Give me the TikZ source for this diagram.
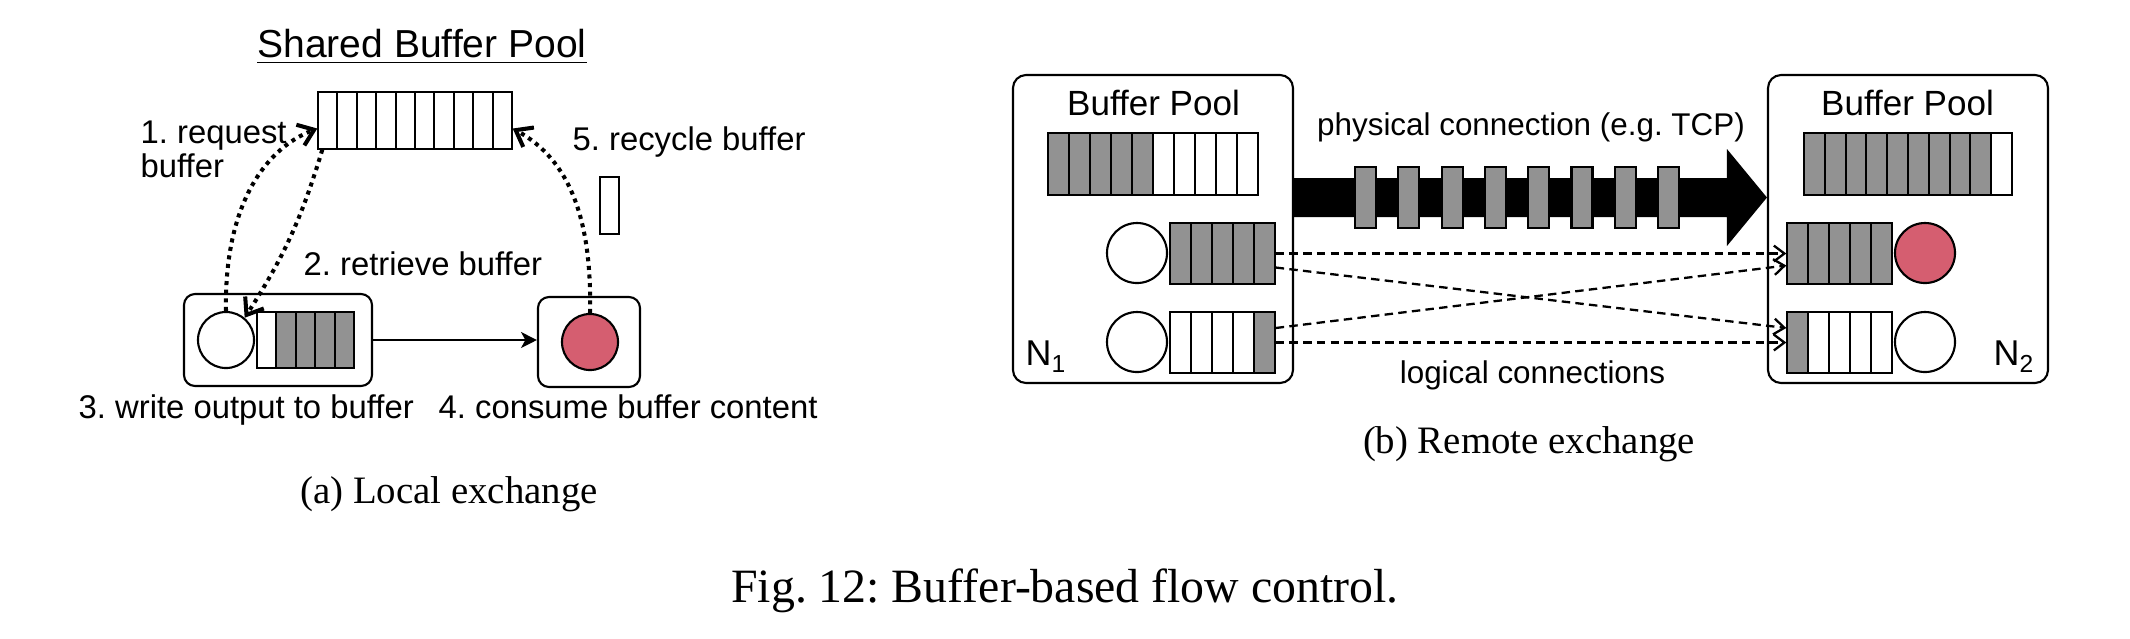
\documentclass[tikz,border=0pt]{standalone}
\usepackage{fontspec}
\setmainfont{Liberation Sans}
\newfontfamily\serifcap{Liberation Serif}
\usetikzlibrary{arrows.meta,fit,calc}
\definecolor{cg}{RGB}{146,146,146}
\definecolor{cred}{RGB}{213,94,112}
\newcommand\cellbuf[7]{%
  \foreach \cf [count=\ci from 0] in {#7} {
    \filldraw[fill=\cf, draw=black, line width=0.6pt] ({#2+\ci*#4},#3) rectangle ({#2+(\ci+1)*#4},{#3+#5});
  }
  \node[inner sep=0pt, fit={(#2,#3) ({#2+#6*#4},{#3+#5})}] (#1) {};
}
\frenchspacing
\begin{document}
\begin{tikzpicture}[x=0.01cm, y=-0.01cm,
  lbl/.style={inner sep=0pt, anchor=base west, font=\fontsize{9.33pt}{11pt}\selectfont},
  lblc/.style={inner sep=0pt, anchor=base, font=\fontsize{8.93pt}{11pt}\selectfont},
  bp/.style={inner sep=0pt, anchor=base, font=\fontsize{9.96pt}{12pt}\selectfont},
  captxt/.style={inner sep=0pt, anchor=base, font=\serifcap\fontsize{11.04pt}{13pt}\selectfont},
  box/.style={draw, line width=0.6pt, rounded corners=0.11cm, inner sep=0pt},
  ring/.style={circle, draw, line width=0.6pt, inner sep=0pt, minimum size=0.56cm},
  bigring/.style={circle, draw, line width=0.6pt, inner sep=0pt, minimum size=0.6cm},
  bar/.style={rectangle, draw, fill=cg, line width=0.6pt, inner sep=0pt, minimum width=0.21cm, minimum height=0.61cm},
  flow/.style={line width=1.15pt, dash pattern=on 1.15pt off 1.3pt, -{Straight Barb[length=4.2pt,width=6.3pt]}},
  logic/.style={line width=0.65pt, dash pattern=on 2.4pt off 1.5pt, -{Straight Barb[length=3pt,width=4.5pt]}}
]
\useasboundingbox (0,0) rectangle (2130,638);

% ---------- (a) Local exchange ----------
\node[inner sep=0pt, anchor=base, font=\fontsize{11.1pt}{13pt}\selectfont] (title) at (422,57) {\underline{Shared Buffer Pool}};
\cellbuf{pool}{318}{92}{19.4}{57}{10}{white,white,white,white,white,white,white,white,white,white}

\node[lbl] (req1) at (140,143) {1. request};
\node[lbl] (req2) at (140,177) {buffer};
\node[lbl] (rec) at (572,150) {5. recycle buffer};
\node[lbl] (ret) at (303,275) {2. retrieve buffer};
\node[draw, line width=0.6pt, inner sep=0pt, minimum width=0.19cm, minimum height=0.57cm] (freebuf) at (609.5,205.5) {};

\node[box, fit={(184,294) (372,386)}] (lbox) {};
\node[ring] (prod) at (226,340) {};
\cellbuf{outbuf}{257}{312}{19.4}{56}{5}{white,cg,cg,cg,cg}

\node[box, fit={(538,297) (640,387)}] (rbox) {};
\node[ring, fill=cred] (cons) at (590,342) {};

\draw[line width=0.65pt, -{Stealth[length=4.5pt,width=4.5pt,inset=1.2pt]}] (lbox.east) -- (lbox.east -| rbox.west);

\draw[flow] (prod.north) .. controls (224,210) and (262,150) .. ([yshift=-0.08cm]pool.west);
\draw[flow] ([xshift=0.05cm]pool.south west) to[bend left=8] (prod.50);
\draw[flow] (cons.north) .. controls (592,220) and (570,160) .. ([yshift=-0.08cm]pool.east);

\node[lbl] (s3) at (78,418) {3. write output to buffer};
\node[lbl] (s4) at (438,418) {4. consume buffer content};
\node[captxt] (capa) at (449,503) {(a) Local exchange};

% ---------- (b) Remote exchange ----------
\node[box, rounded corners=0.13cm, fit={(1013,75) (1293,383)}] (n1) {};
\node[box, rounded corners=0.13cm, fit={(1768,75) (2048,383)}] (n2) {};

\node[bp] (bp1) at (1153.5,115) {Buffer Pool};
\node[bp] (bp2) at (1907.5,115) {Buffer Pool};

\cellbuf{poola}{1048}{133}{21}{62}{10}{cg,cg,cg,cg,cg,white,white,white,white,white}
\cellbuf{poolb}{1804}{133}{20.8}{62}{10}{cg,cg,cg,cg,cg,cg,cg,cg,cg,white}

\node[bigring] (pa) at (1137,253) {};
\node[bigring] (pb) at (1137,342) {};
\cellbuf{ba}{1170}{223}{21}{61}{5}{cg,cg,cg,cg,cg}
\cellbuf{bb}{1170}{312}{21}{61}{5}{white,white,white,white,cg}

\cellbuf{bc}{1787}{223}{21}{61}{5}{cg,cg,cg,cg,cg}
\cellbuf{bd}{1787}{312}{21}{61}{5}{cg,white,white,white,white}
\node[bigring, fill=cred] (ca) at (1925,253) {};
\node[bigring] (cb) at (1925,342) {};

\node[lbl, font=\fontsize{10.2pt}{12pt}\selectfont] (lab1) at (1025,365) {N\raisebox{-0.22em}{\fontsize{7pt}{8pt}\selectfont 1}};
\node[lbl, font=\fontsize{10.2pt}{12pt}\selectfont] (lab2) at (1993,365) {N\raisebox{-0.22em}{\fontsize{7pt}{8pt}\selectfont 2}};

% physical connection arrow
\coordinate (tcpa) at (n1.east |- 0,197.5);
\coordinate (tcpb) at (n2.west |- 0,197.5);
\fill[black] ($(tcpa)+(0,-19.5)$) -- ($(tcpb)+(-40,-19.5)$) -- ($(tcpb)+(-40,-48.5)$) -- (tcpb)
  -- ($(tcpb)+(-40,48.5)$) -- ($(tcpb)+(-40,19.5)$) -- ($(tcpa)+(0,19.5)$) -- cycle;
\foreach \k in {0,...,7} \node[bar] (bar\k) at ({1365.5+\k*43.3},197.5) {};
\node[lblc] (phys) at (1531,135) {physical connection (e.g. TCP)};

% logical connections
\draw[logic] (ba.east) -- (bc.west);
\draw[logic] ([yshift=-0.14cm]ba.east) -- ([yshift=0.145cm]bd.west);
\draw[logic] ([yshift=0.145cm]bb.east) -- ([yshift=-0.12cm]bc.west);
\draw[logic] (bb.east) -- (bd.west);
\node[lblc] (logi) at (1532.5,383) {logical connections};

\node[captxt] (capb) at (1529,453) {(b) Remote exchange};
\node[inner sep=0pt, anchor=base, font=\serifcap\fontsize{13.6pt}{16pt}\selectfont] (fig) at (1065,602) {Fig. 12: Buffer-based flow control.};
\end{tikzpicture}
\end{document}
